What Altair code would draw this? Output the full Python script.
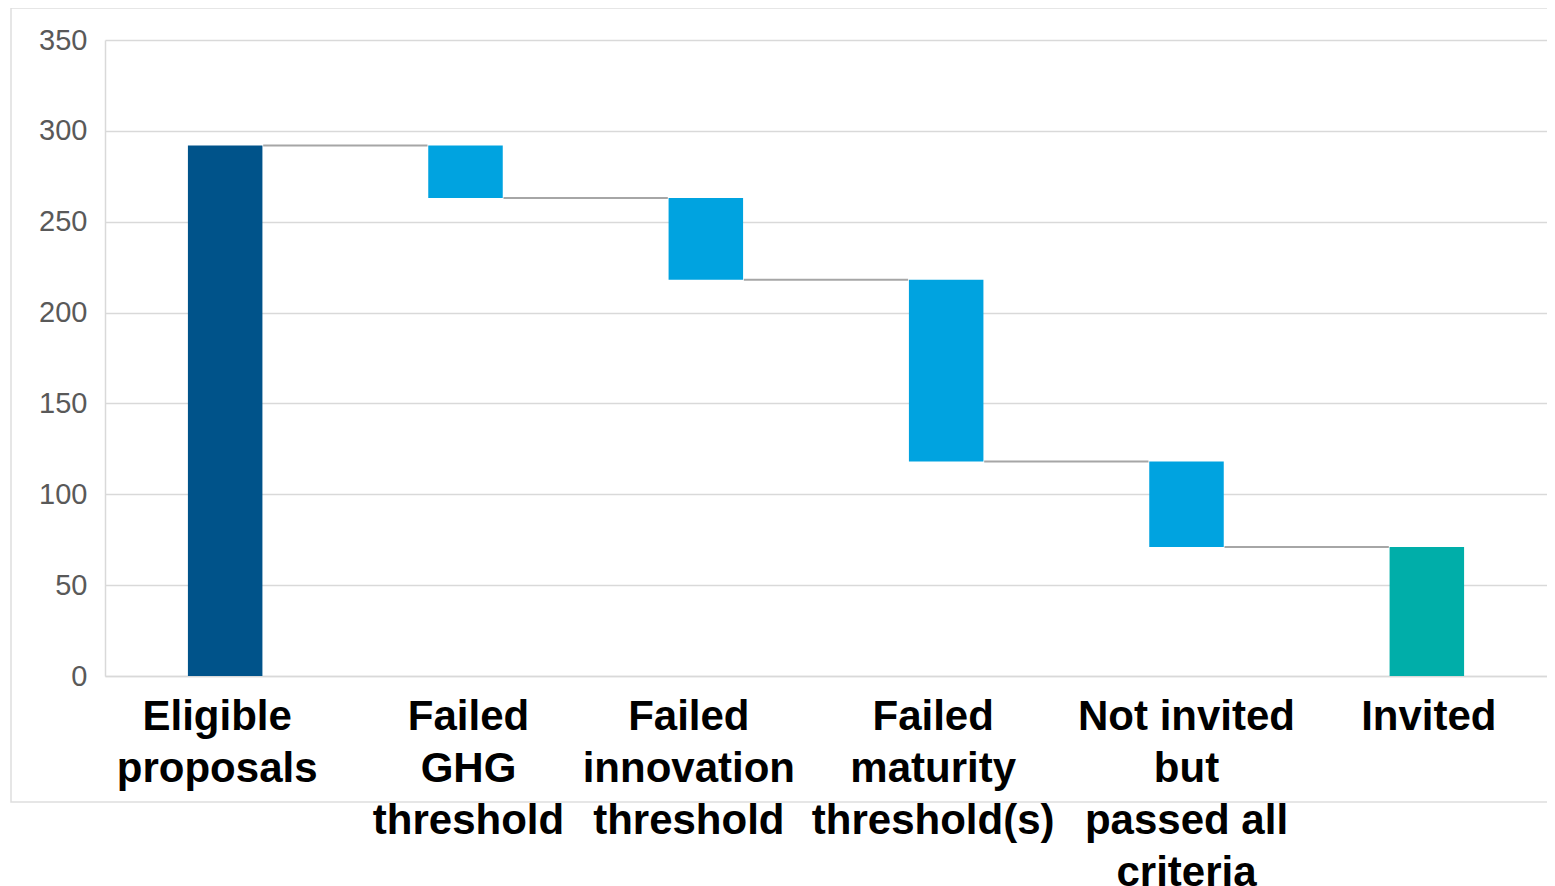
import altair as alt
import pandas as pd

# ---- data ----
labels = [
    "Eligible|proposals",
    "Failed|GHG|threshold",
    "Failed|innovation|threshold",
    "Failed|maturity|threshold(s)",
    "Not invited|but|passed all|criteria",
    "Invited",
]
values = [292, 29, 45, 100, 47, 71]
kinds = ["start", "decrease", "decrease", "decrease", "decrease", "end"]
y_ticks = [0, 50, 100, 150, 200, 250, 300, 350]

kind_domain = ["start", "decrease", "end"]
kind_colors = ["#00538A", "#00A3E0", "#00AEA9"]

# small horizontal nudges of the category labels (as in the reference)
label_nudge = [-8, 3, -17, -13, 0, 2]

# ---- waterfall table ----
rows = []
running = 0
levels = []
for lab, v, k in zip(labels, values, kinds):
    if k == "start":
        bottom, top = 0, v
        running = v
    elif k == "decrease":
        top, bottom = running, running - v
        running = bottom
    else:
        bottom, top = 0, v
    rows.append({"label": lab, "bottom": bottom, "top": top, "kind": k})
    levels.append(running)
df = pd.DataFrame(rows)

conn = pd.DataFrame({
    "label": labels[:-1],
    "to": labels[1:],
    "bottom": levels[:-1],
})

W, H = 1442, 636

offset_cond = {
    "condition": [
        {"test": f"datum.value == '{lab}'", "value": n}
        for lab, n in zip(labels, label_nudge) if n != 0
    ],
    "value": 0,
}

x_axis = alt.Axis(
    title=None,
    labelExpr="split(datum.label, '|')",
    labelAngle=0,
    labelFont="Liberation Sans, Arial, sans-serif",
    labelFontWeight="bold",
    labelFontSize=42,
    labelLineHeight=52,
    labelColor="#000000",
    labelPadding=20,
    labelLimit=0,
    labelOffset=offset_cond,
    ticks=False,
    grid=False,
    domainColor="#d9d9d9",
    domainWidth=1.5,
)

y_axis = alt.Axis(
    title=None,
    values=y_ticks,
    labelFont="Liberation Sans, Arial, sans-serif",
    labelFontSize=29,
    labelColor="#595959",
    labelPadding=18,
    ticks=False,
    grid=True,
    gridColor="#d9d9d9",
    gridWidth=1.5,
    domainColor="#d9d9d9",
    domainWidth=1.5,
)

xscale = alt.Scale(domain=labels, paddingInner=0.69, paddingOuter=0.345)
yscale = alt.Scale(domain=[0, 350])

frame = alt.Chart(pd.DataFrame({"a": [0]})).mark_rect(
    fill="transparent", stroke="#dedede", strokeWidth=1.5
).encode(
    x=alt.value(-94), x2=alt.value(W + 20), y=alt.value(-32), y2=alt.value(762)
)

bars = alt.Chart(df).mark_bar().encode(
    x=alt.X("label:N", scale=xscale, axis=x_axis),
    y=alt.Y("bottom:Q", scale=yscale, axis=y_axis),
    y2="top:Q",
    color=alt.Color("kind:N", scale=alt.Scale(domain=kind_domain, range=kind_colors), legend=None),
)

connectors = alt.Chart(conn).mark_rule(
    color="#a6a6a6", strokeWidth=2, xOffset=38, x2Offset=-38
).encode(
    x=alt.X("label:N", scale=xscale, axis=x_axis),
    x2="to:N",
    y=alt.Y("bottom:Q", scale=yscale, axis=y_axis),
)

chart = alt.layer(frame, bars, connectors).properties(
    width=W,
    height=H,
    padding={"left": 97, "top": 32, "right": 0, "bottom": 210},
    autosize=alt.AutoSizeParams(type="none"),
    background="white",
).configure_view(stroke=None)

chart.save("out.html", embed_options={"renderer": "svg", "actions": False})
